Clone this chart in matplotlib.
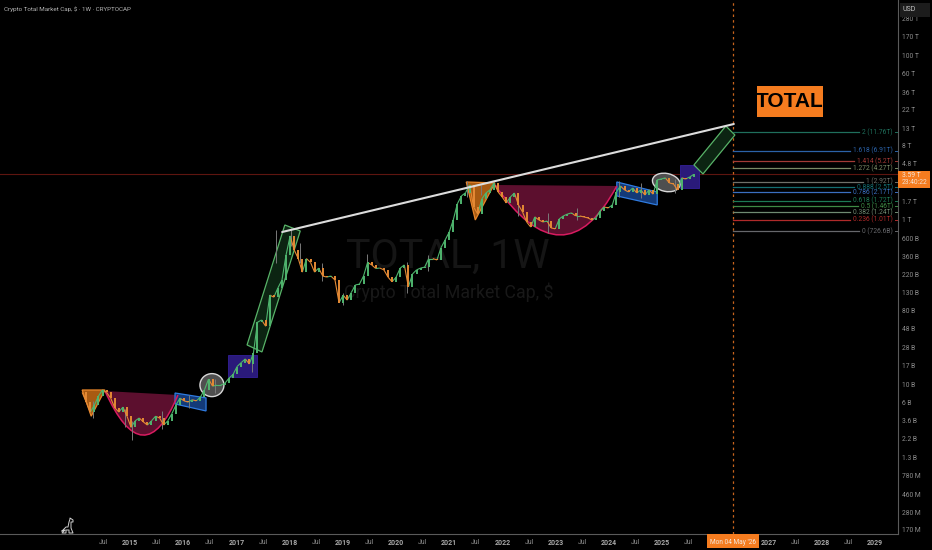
import numpy as np
import matplotlib
matplotlib.use('Agg')
import matplotlib.pyplot as plt
from matplotlib.collections import LineCollection
from matplotlib.patches import Polygon, PathPatch, Rectangle, Ellipse
from matplotlib.path import Path
from matplotlib.transforms import Affine2D, blended_transform_factory

plt.rcParams['font.family'] = ['Roboto', 'DejaVu Sans']

# 4 week closes in billions, first bar at 2014.10
closes = [8.0, 6.1, 4.6, 5.6, 7.2, 8.6, 8.0, 6.8, 5.2, 4.6, 5.3, 4.1, 3.0, 3.6, 3.9, 3.5, 3.2, 3.6, 4.1, 3.9,
          3.2, 3.6, 4.4, 5.6, 6.8, 6.3, 6.1, 6.5, 6.3, 7.0, 8.6, 11.6, 9.5, 9.8, 9.8, 10.3, 11.9, 13.2, 16.5, 18.4,
          20.4, 17.7, 24, 57, 60.8, 51, 122, 115, 149, 186, 375, 640, 432, 339, 232, 339, 305, 232, 260, 208,
          202, 208, 186, 98, 122, 106, 131, 162, 166, 208, 305, 284, 257, 260, 247, 202, 177, 202, 260, 284,
          153, 220, 247, 260, 267, 339, 339, 326, 460, 571, 710, 1000, 1570, 1960, 2140, 2666, 1440, 1180, 1800, 2130,
          2320, 2820, 2190, 1900, 1610, 1900, 2130, 1520, 1250, 945, 820, 1090, 1000, 945, 970, 800, 780, 1030, 1120, 1180,
          1220, 1120, 1120, 1090, 1060, 1000, 1060, 1290, 1440, 1400, 1520, 2190, 2590, 2320, 2190, 2450, 2130, 2320, 2010, 2320,
          2060, 3070, 3150, 3250, 2820, 2740, 2320, 3250, 3150, 3340, 3590]
first_date = 2014.10
bar_years = 4 / 52.18

wick_dates = [2014.3, 2014.9, 2015.03, 2015.6, 2016.1, 2016.6, 2017.3, 2017.75, 2018.02, 2018.2, 2018.6, 2019.0, 2019.45, 2020.2,
              2020.6, 2021.33, 2021.6, 2022.3, 2022.85, 2023.4, 2024.2, 2024.6, 2025.25]
wick_lows = [3.9, 3.0, 2.1, 2.9, 5.2, 7.8, 14, 300, 480, 300, 180, 92, 240, 130, 240, 1900, 2000, 1120, 700, 1000, 1900, 1850, 2150]
wick_highs = [6.2, 5.0, 3.6, 4.8, 7.4, 11.6, 21, 750, 800, 520, 300, 130, 390, 310, 370, 3000, 2700, 2100, 1200, 1400, 2950, 2800, 3150]

y_ticks = [280000, 170000, 100000, 60000, 36000, 22000, 13000, 8000, 4800, 1700, 1000, 600, 360, 220, 130, 80, 48, 28, 17, 10,
           6, 3.6, 2.2, 1.3, 0.78, 0.46, 0.28, 0.17]
y_labels = ['280 T', '170 T', '100 T', '60 T', '36 T', '22 T', '13 T', '8 T', '4.8 T', '1.7 T', '1 T', '600 B', '360 B', '220 B',
            '130 B', '80 B', '48 B', '28 B', '17 B', '10 B', '6 B', '3.6 B', '2.2 B', '1.3 B', '780 M', '460 M', '280 M', '170 M']

# 2026 and its Jul sit under the date tag
x_ticks = [2014.5, 2015, 2015.5, 2016, 2016.5, 2017, 2017.5, 2018, 2018.5, 2019, 2019.5, 2020, 2020.5, 2021, 2021.5, 2022, 2022.5,
           2023, 2023.5, 2024, 2024.5, 2025, 2025.5, 2027, 2027.5, 2028, 2028.5, 2029]
x_labels = ['Jul', '2015', 'Jul', '2016', 'Jul', '2017', 'Jul', '2018', 'Jul', '2019', 'Jul', '2020', 'Jul', '2021', 'Jul', '2022', 'Jul',
            '2023', 'Jul', '2024', 'Jul', '2025', 'Jul', '2027', 'Jul', '2028', 'Jul', '2029']

fib_levels = ['2', '1.618', '1.414', '1.272', '1', '0.888', '0.786', '0.618', '0.5', '0.382', '0.236', '0']
fib_text = ['11.76T', '6.91T', '5.2T', '4.27T', '2.92T', '2.5T', '2.17T', '1.72T', '1.46T', '1.24T', '1.01T', '726.6B']
fib_prices = [11760, 6910, 5200, 4270, 2920, 2500, 2170, 1720, 1460, 1240, 1010, 726.6]
fib_colors = ['#1f6f5c', '#2b62a8', '#a33a36', '#7a8a66', '#6f706a', '#136f72', '#3a6fc0', '#1d7a55', '#3f8a45', '#6f8a72', '#b02a2a', '#66676b']

now_date = 2026.34
last_price = 3590
trend_dates = [2017.86, 2026.35]
trend_prices = [714, 14700]

triangles = [([2014.10, 2014.53, 2014.27], [8.55, 8.55, 4.1]),
             ([2021.32, 2021.86, 2021.49], [2900, 2820, 1000])]
# start, control, end of each cup
cups = [([2014.53, 2015.26, 2015.90], [8.3, 0.742, 7.43]),
        ([2021.86, 2023.16, 2024.15], [2666, 164, 2590])]
blue_channels = [([2015.846, 2016.429, 2016.429, 2015.846], [7.86, 6.85, 4.75, 5.78]),
                 ([2024.15, 2024.91, 2024.91, 2024.15], [2900, 2190, 1522, 1960])]
purple_boxes = [(2016.84, 2017.39, 12.3, 22.8), (2025.34, 2025.70, 2450, 4670)]
green_channels = [([2017.91, 2018.20, 2017.48, 2017.20], [869, 735, 24.8, 30.2]),
                  ([2026.20, 2026.37, 2025.77, 2025.60], [13900, 10800, 3630, 4670])]
ovals = [(2016.54, 9.8, 24, 23, 0), (2025.08, 2860, 28, 18, -12)]

BG = 'black'
GREY = '#8c8c8c'
ORANGE = '#f57c1f'

fig = plt.figure(figsize=(9.32, 5.5), dpi=100, facecolor=BG)
ax = fig.add_axes([0, 16 / 550, 898 / 932, 534 / 550], facecolor=BG)
ax.set_yscale('log')
ax.set_xlim(2012.556, 2029.436)
ax.set_ylim(0.1514, 474000)

ax.set_yticks(y_ticks)
ax.set_yticklabels(y_labels)
ax.minorticks_off()
ax.yaxis.tick_right()
ax.set_xticks(x_ticks)
ax.set_xticklabels(x_labels)
ax.tick_params(axis='y', length=0, pad=3, labelsize=4.9, labelcolor=GREY)
ax.tick_params(axis='x', length=0, pad=3.5, labelsize=5, labelcolor=GREY)
for label_ in ax.get_xticklabels():
    if label_.get_text() != 'Jul':
        label_.set_color('#a8a8a8')
        label_.set_fontweight('bold')
for side in ['top', 'left']:
    ax.spines[side].set_visible(False)
for side in ['right', 'bottom']:
    ax.spines[side].set_color('#5a5a5a')
    ax.spines[side].set_linewidth(0.8)

# watermark
wm = blended_transform_factory(ax.transAxes, ax.transAxes)
ax.text(448 / 898, 1 - 256 / 534, 'TOTAL, 1W', color='#151515', fontsize=29.5, ha='center', va='center',
        transform=wm, zorder=0)
ax.text(449 / 898, 1 - 292 / 534, 'Crypto Total Market Cap, $', color='#181818', fontsize=12.8, ha='center', va='center',
        transform=wm, zorder=0)

# shapes under the price
for xs, ys in triangles:
    ax.add_patch(Polygon(list(zip(xs, ys)), closed=True, fc='#a85a12', ec='#e8862a', lw=0.9, zorder=2))
for xs, ys in cups:
    ax.add_patch(PathPatch(Path(list(zip(xs + xs[:1], ys + ys[:1])), [Path.MOVETO, Path.CURVE3, Path.CURVE3, Path.LINETO]),
                           fc='#5c0f2e', ec='none', zorder=2))
    ax.add_patch(PathPatch(Path(list(zip(xs, ys)), [Path.MOVETO, Path.CURVE3, Path.CURVE3]),
                           fc='none', ec='#d81b60', lw=1.1, zorder=3))
for xs, ys in blue_channels:
    ax.add_patch(Polygon(list(zip(xs, ys)), closed=True, fc='#133a78', ec='#2f7be0', lw=0.9, zorder=2))
for x0, x1, y0, y1 in purple_boxes:
    ax.add_patch(Polygon([(x0, y0), (x1, y0), (x1, y1), (x0, y1)], closed=True, fc='#2a1a7a', ec='#33209a', lw=0.6, zorder=2))
for xs, ys in green_channels:
    ax.add_patch(Polygon(list(zip(xs, ys)), closed=True, fc='#0c2412', ec='#58b368', lw=0.9, zorder=2))

# ovals are sized in pixels so they stay round on the log scale
for d, p, w, h, ang in ovals:
    cx, cy = ax.transData.transform((d, p))
    ax.add_artist(Ellipse((cx, cy), w, h, angle=ang, fc='#4f4f4f', ec='#d8d8d8', lw=1.0, zorder=2,
                          transform=Affine2D()))

ax.axhline(last_price, color='#5e1510', lw=0.8, zorder=1)
ax.axvline(now_date, color='#c8641c', lw=0.9, ls=(0, (2, 2.5)), zorder=1)

# price
dates = first_date + np.arange(len(closes)) * bar_years
pts = np.column_stack([dates, closes])
segs = np.stack([pts[:-1], pts[1:]], axis=1)
cols = ['#4fb56e' if b >= a else '#e58a35' for a, b in zip(closes[:-1], closes[1:])]
ax.vlines(wick_dates, wick_lows, wick_highs, color='#7a7a7a', lw=0.7, zorder=3.5)
ax.add_collection(LineCollection(segs, colors=cols, linewidths=0.8, zorder=4))
ax.vlines(dates[1:], closes[:-1], closes[1:], colors=cols, lw=1.4, zorder=4)

ax.plot(trend_dates, trend_prices, color='#dcdcdc', lw=1.5, zorder=5, solid_capstyle='round')

# fib levels, line stops where its label starts
fig.canvas.draw()
renderer = fig.canvas.get_renderer()
ytrans = blended_transform_factory(ax.transAxes, ax.transData)
for lev, txt, price, col in zip(fib_levels, fib_text, fib_prices, fib_colors):
    t = ax.text(893 / 898, price, f'{lev} ({txt})', color=col, fontsize=4.8, ha='right', va='center', transform=ytrans, zorder=6)
    left = t.get_window_extent(renderer).x0
    end = ax.transData.inverted().transform((left - 3, 0))[0]
    ax.plot([now_date, end], [price, price], color=col, lw=0.9, zorder=3)
    ax.plot([895 / 898, 898 / 898], [price, price], color=col, lw=0.7, transform=ytrans, zorder=3)

# page furniture in pixels from top left
px = Affine2D().scale(1, -1).translate(0, 550)


def box(x0, y0, x1, y1, color):
    fig.add_artist(Rectangle((x0, y0), x1 - x0, y1 - y0, fc=color, ec='none', transform=px, zorder=10))


def label(x, y, s, color, size, ha='center', **kw):
    fig.text(x, y, s, color=color, fontsize=size, ha=ha, va='center', transform=px, zorder=11, **kw)


label(4, 9.5, 'Crypto Total Market Cap, $ · 1W · CRYPTOCAP', '#b4b4b4', 4.5, ha='left')
box(757, 86, 823, 117, ORANGE)
label(790, 101.5, 'TOTAL', 'black', 15, family=['Liberation Sans'], fontweight='bold')
box(900, 3, 930, 17, '#1c1c1c')
label(909.5, 9.5, 'USD', '#c4c4c4', 5)
box(898, 171, 930, 188, ORANGE)
label(902, 175.5, '3.59 T', '#f4e6da', 4.9, ha='left')
label(902, 183, '23:40:22', '#f4e0cf', 4.9, ha='left')
box(707, 534, 759, 548, ORANGE)
label(733, 542, "Mon 04 May '26", '#f6e8dc', 4.7)

# logo outline bottom left
dino_x = [62, 66, 68, 69, 70, 70, 73, 73, 71, 71, 73, 69, 69, 66, 66, 62, 65, 62]
dino_y = [531, 527, 527, 522, 519, 518, 520, 522, 522, 528, 533, 533, 530, 530, 533, 533, 530, 531]
fig.add_artist(plt.Line2D(dino_x, dino_y, color='#d0d0d0', lw=0.7, transform=px, zorder=11))

fig.savefig('out.png', dpi=100, facecolor=BG)
